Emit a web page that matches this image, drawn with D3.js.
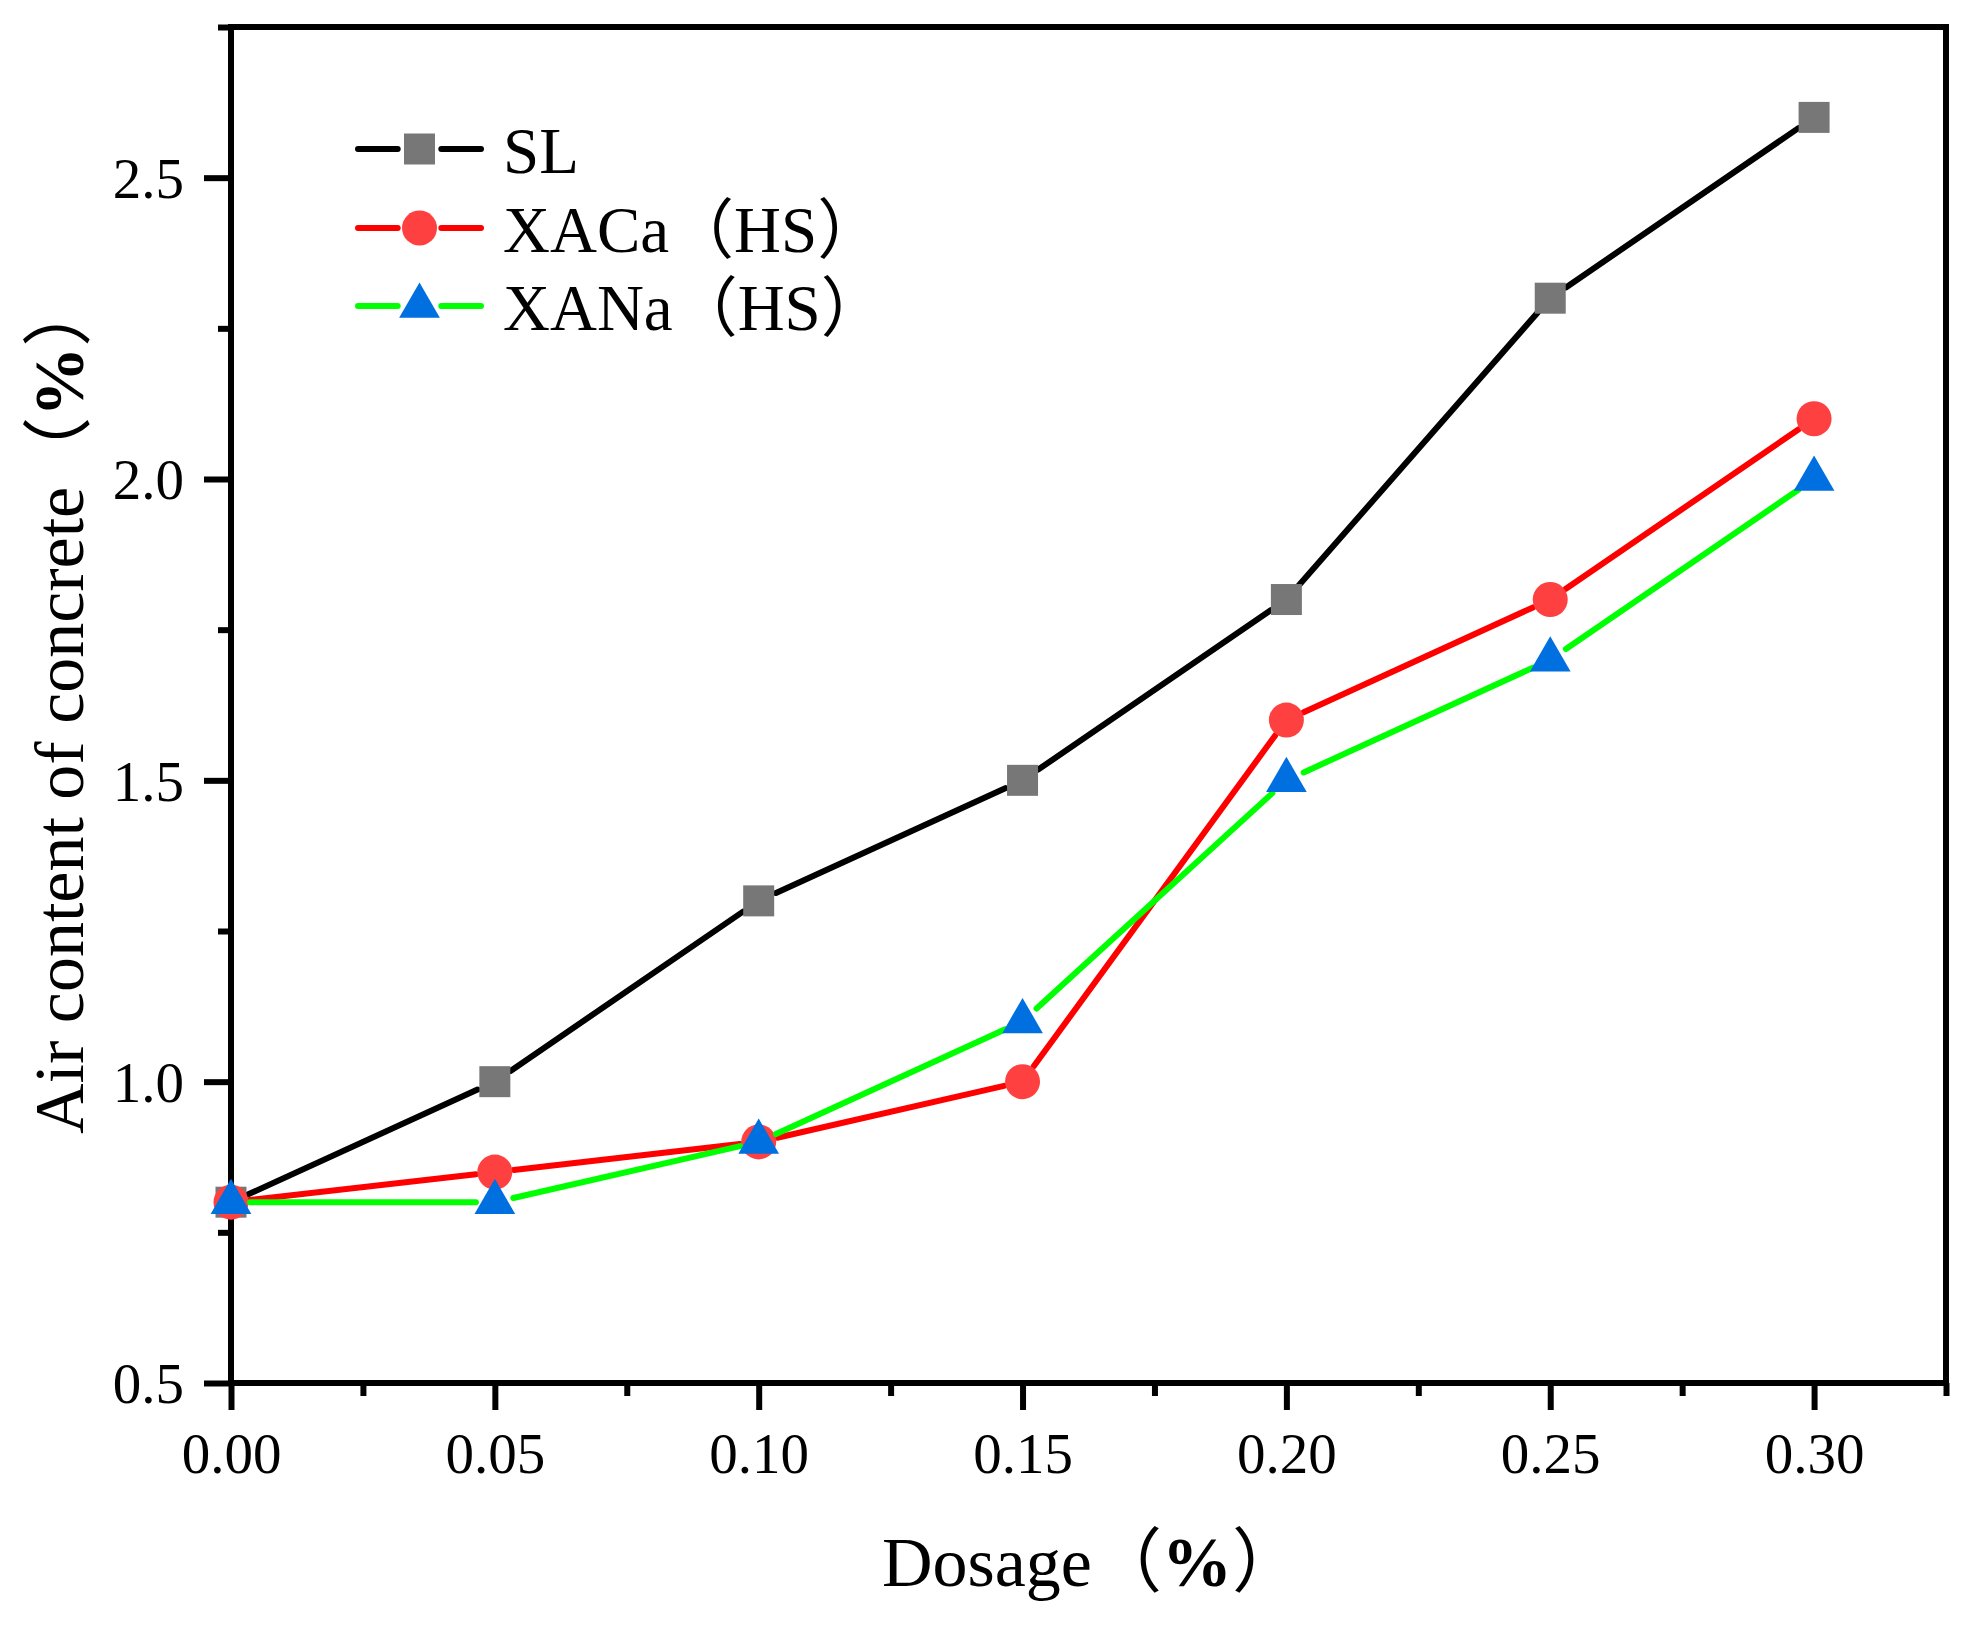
<!DOCTYPE html>
<html>
<head>
<meta charset="utf-8">
<script src="https://cdn.jsdelivr.net/npm/d3@7"></script>
<style>
  body { margin: 0; background: #fff; }
</style>
</head>
<body>
<div id="chart"></div>
<script>
// data
const dosage = [0, 0.05, 0.10, 0.15, 0.20, 0.25, 0.30];
const slValues = [0.8, 1.0, 1.3, 1.5, 1.8, 2.3, 2.6];
const xacaValues = [0.8, 0.85, 0.9, 1.0, 1.6, 1.8, 2.1];
const xanaValues = [0.8, 0.8, 0.9, 1.1, 1.5, 1.7, 2.0];
const seriesNames = ['SL', 'XACa（HS）', 'XANa（HS）'];

const xTicks = [0, 0.05, 0.10, 0.15, 0.20, 0.25, 0.30];
const xMinorTicks = [0.025, 0.075, 0.125, 0.175, 0.225, 0.275, 0.325];
const yTicks = [0.5, 1.0, 1.5, 2.0, 2.5];
const yMinorTicks = [0.75, 1.25, 1.75, 2.25, 2.75];

const xTitle = 'Dosage';
const yTitle = 'Air content of concrete';

//initialization
const W = 1979, H = 1627;
const margin = ({top: 27, right: 33, bottom: 244, left: 231});
const serif = "'Liberation Serif', 'Times New Roman', 'Noto Sans CJK SC', serif";

const svg = d3.select('#chart')
    .append('svg')
    .attr('width', W)
    .attr('height', H)
    .style('display', 'block');

const xScale = d3.scaleLinear()
    .domain([0, 0.325])
    .range([margin.left, W - margin.right]);

const yScale = d3.scaleLinear()
    .domain([0.5, 2.75])
    .range([H - margin.bottom, margin.top]);

const series = [
    {name: seriesNames[0], values: slValues, line: '#000000', fill: '#777777', symbol: d3.symbolSquare, size: 961},
    {name: seriesNames[1], values: xacaValues, line: '#ff0000', fill: '#ff4040', symbol: d3.symbolCircle, size: 962},
    {name: seriesNames[2], values: xanaValues, line: '#00ff00', fill: '#006fe0', symbol: d3.symbolTriangle, size: 717}
];

// axes: major + minor ticks, frame drawn separately
function styleAxis(g) {
    g.select('.domain').remove();
    g.selectAll('.tick line').attr('stroke', '#000').attr('stroke-width', 6);
    g.selectAll('text')
        .attr('fill', '#000')
        .style('font-family', serif)
        .style('font-size', '57px');
}

const y0 = yScale(0.5);

svg.append('g')
    .attr('transform', 'translate(0,' + y0 + ')')
    .call(d3.axisBottom(xScale).tickValues(xMinorTicks).tickSize(13).tickFormat(''))
    .call(styleAxis);

svg.append('g')
    .attr('transform', 'translate(0,' + y0 + ')')
    .call(d3.axisBottom(xScale).tickValues(xTicks).tickSize(27).tickFormat(d3.format('.2f')))
    .call(styleAxis)
    .call(g => g.selectAll('text').attr('y', 90).attr('dy', 0));

svg.append('g')
    .attr('transform', 'translate(' + margin.left + ',0)')
    .call(d3.axisLeft(yScale).tickValues(yMinorTicks).tickSize(13).tickFormat(''))
    .call(styleAxis);

svg.append('g')
    .attr('transform', 'translate(' + margin.left + ',0)')
    .call(d3.axisLeft(yScale).tickValues(yTicks).tickSize(27).tickFormat(d3.format('.1f')))
    .call(styleAxis)
    .call(g => g.selectAll('text').attr('x', -47).attr('dy', '0.35em'));

svg.append('rect')
    .attr('x', xScale(0))
    .attr('y', yScale(2.75))
    .attr('width', xScale(0.325) - xScale(0))
    .attr('height', yScale(0.5) - yScale(2.75))
    .attr('fill', 'none')
    .attr('stroke', '#000')
    .attr('stroke-width', 6);

// lines stop a little short of each marker (gap like the original)
const gap = 19;
series.forEach(s => {
    const g = svg.append('g');
    const pts = s.values.map((v, i) => [xScale(dosage[i]), yScale(v)]);
    for (let i = 0; i < pts.length - 1; i++) {
        const [ax, ay] = pts[i], [bx, by] = pts[i + 1];
        const len = Math.hypot(bx - ax, by - ay);
        if (len <= 2 * gap) continue;
        const ux = (bx - ax) / len, uy = (by - ay) / len;
        g.append('line')
            .attr('x1', ax + ux * gap).attr('y1', ay + uy * gap)
            .attr('x2', bx - ux * gap).attr('y2', by - uy * gap)
            .attr('stroke', s.line)
            .attr('stroke-width', 6)
            .attr('stroke-linecap', 'round');
    }
    g.selectAll('path')
        .data(s.values)
        .enter()
        .append('path')
        .attr('d', d3.symbol().type(s.symbol).size(s.size))
        .attr('transform', (d, i) => 'translate(' + xScale(dosage[i]) + ',' + yScale(d) + ')')
        .attr('fill', s.fill);
});

// legend
const legendX = 419.5, legendRows = [149, 228, 306];
series.forEach((s, i) => {
    const g = svg.append('g').attr('transform', 'translate(' + legendX + ',' + legendRows[i] + ')');
    [[-61.5, -21.8], [21.8, 61.5]].forEach(([a, b]) => {
        g.append('line')
            .attr('x1', a).attr('x2', b)
            .attr('y1', 0).attr('y2', 0)
            .attr('stroke', s.line)
            .attr('stroke-width', 6)
            .attr('stroke-linecap', 'round');
    });
    g.append('path')
        .attr('d', d3.symbol().type(s.symbol).size(s.size))
        .attr('fill', s.fill);
    g.append('text')
        .attr('x', 83.5)
        .attr('y', 24)
        .style('font-family', serif)
        .style('font-size', '65px')
        .text(s.name);
});

// axis titles
function titleText(sel, label) {
    sel.style('font-family', serif).style('font-size', '70px');
    sel.append('tspan').text(label);
    sel.append('tspan').text('（');
    sel.append('tspan').style('font-weight', 'bold').text('%');
    sel.append('tspan').text('）');
}

svg.append('text')
    .attr('x', 882)
    .attr('y', 1586)
    .call(titleText, xTitle);

svg.append('text')
    .attr('transform', 'translate(83,1134) rotate(-90)')
    .call(titleText, yTitle);
</script>
</body>
</html>
